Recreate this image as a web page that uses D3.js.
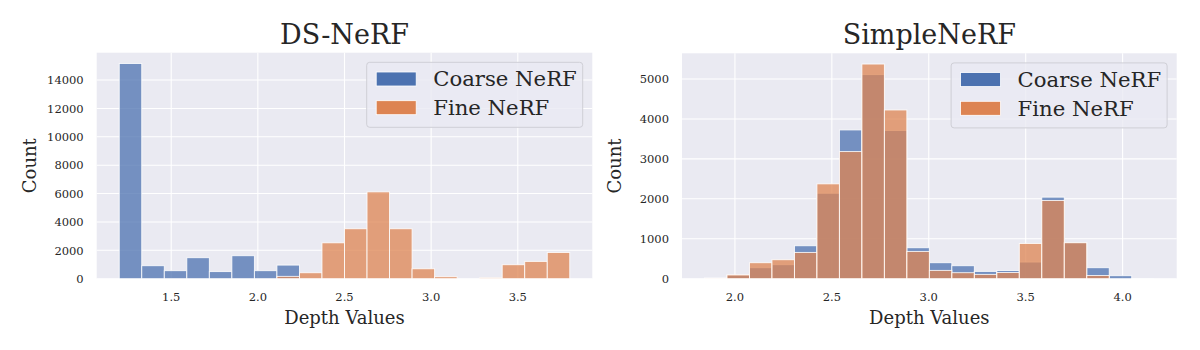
<!DOCTYPE html>
<html>
<head>
<meta charset="utf-8">
<script src="https://cdn.jsdelivr.net/npm/d3@7"></script>
<style>
  html, body { margin: 0; padding: 0; background: #fff; }
  svg { display: block; }
  text { font-family: "DejaVu Serif", serif; fill: #262626; }
</style>
</head>
<body>
<svg id="chart" width="1200" height="350"></svg>
<script>
// ---------- DATA ----------
const seriesNames = ["Coarse NeRF", "Fine NeRF"];

// DS-NeRF: 20 shared histogram bins
const dsEdges = [1.20, 1.33, 1.46, 1.59, 1.72, 1.85, 1.98, 2.11, 2.24, 2.37, 2.50,
                 2.63, 2.76, 2.89, 3.02, 3.15, 3.28, 3.41, 3.54, 3.67, 3.80];
const dsCoarse = [15170, 915, 565, 1480, 500, 1620, 565, 960, 0, 0,
                  0, 0, 0, 0, 0, 0, 0, 0, 0, 0];
const dsFine   = [0, 0, 0, 0, 0, 0, 0, 165, 420, 2530,
                  3520, 6120, 3520, 700, 140, 0, 70, 985, 1220, 1850];
const dsXTicks = [1.5, 2.0, 2.5, 3.0, 3.5];
const dsYTicks = [0, 2000, 4000, 6000, 8000, 10000, 12000, 14000];

// SimpleNeRF: 20 shared histogram bins
const snEdges = [1.843, 1.959, 2.075, 2.191, 2.307, 2.423, 2.539, 2.655, 2.771, 2.887, 3.003,
                 3.119, 3.235, 3.351, 3.467, 3.583, 3.699, 3.815, 3.931, 4.047, 4.163];
const snCoarse = [15, 90, 275, 350, 825, 2140, 3725, 5110, 3710, 775,
                  400, 325, 183, 205, 417, 2042, 905, 275, 75, 5];
const snFine   = [10, 95, 400, 475, 658, 2375, 3183, 5375, 4225, 683,
                  208, 150, 108, 155, 883, 1958, 900, 80, 0, 0];
const snXTicks = [2.0, 2.5, 3.0, 3.5, 4.0];
const snYTicks = [0, 1000, 2000, 3000, 4000, 5000];

const titles = ["DS-NeRF", "SimpleNeRF"];
const xLabel = "Depth Values";
const yLabel = "Count";

// ---------- STYLE ----------
const colors = ["#4c72b0", "#dd8452"];
const bg = "#eaeaf2";

const svg = d3.select("#chart");

function drawPanel(cfg) {
  const {left, right, top, bottom, edges, series, xTicks, yTicks, title} = cfg;
  const lo = edges[0], hi = edges[edges.length - 1], span = hi - lo;
  const x = d3.scaleLinear().domain([lo - 0.05 * span, hi + 0.05 * span]).range([left, right]);
  const ymax = d3.max(series.flat());
  const y = d3.scaleLinear().domain([0, ymax * 1.05]).range([bottom, top]);

  const g = svg.append("g");
  g.append("rect").attr("x", left).attr("y", top)
    .attr("width", right - left).attr("height", bottom - top).attr("fill", bg);

  // grid
  g.append("g").selectAll("line").data(yTicks).join("line")
    .attr("x1", left).attr("x2", right)
    .attr("y1", d => y(d)).attr("y2", d => y(d))
    .attr("stroke", "#fff").attr("stroke-width", 1.1);
  g.append("g").selectAll("line").data(xTicks).join("line")
    .attr("y1", top).attr("y2", bottom)
    .attr("x1", d => x(d)).attr("x2", d => x(d))
    .attr("stroke", "#fff").attr("stroke-width", 1.1);

  // bars (coarse first, fine layered on top)
  series.forEach((vals, si) => {
    const bins = vals.map((v, i) => ({x0: edges[i], x1: edges[i + 1], v}));
    g.append("g").selectAll("rect").data(bins.filter(b => b.v > 0)).join("rect")
      .attr("x", d => x(d.x0))
      .attr("width", d => x(d.x1) - x(d.x0))
      .attr("y", d => y(d.v))
      .attr("height", d => y(0) - y(d.v))
      .attr("fill", colors[si]).attr("fill-opacity", 0.75)
      .attr("stroke", "#fff").attr("stroke-width", 0.9).attr("stroke-opacity", 0.9);
  });

  // axes tick labels
  const ax = g.append("g").style("font-size", "11.5px");
  ax.selectAll("text.yt").data(yTicks).join("text").attr("class", "yt")
    .attr("x", left - 13).attr("y", d => y(d) + 4.2)
    .attr("text-anchor", "end").text(d => d);
  ax.selectAll("text.xt").data(xTicks).join("text").attr("class", "xt")
    .attr("x", d => x(d)).attr("y", bottom + 22.3)
    .attr("text-anchor", "middle").text(d => d.toFixed(1));

  // labels
  const cx = (left + right) / 2, cy = (top + bottom) / 2;
  g.append("text").attr("x", cx).attr("y", 324.3).attr("text-anchor", "middle")
    .style("font-size", "18px").text(xLabel);
  g.append("text").attr("transform", `translate(${left - 61},${cy}) rotate(-90)`)
    .attr("text-anchor", "middle").style("font-size", "18px").text(yLabel);
  g.append("text").attr("x", cx).attr("y", 44.3).attr("text-anchor", "middle")
    .style("font-size", "27px").text(title);

  // legend
  const lw = 216, lh = 65;
  const lx = right - 9.6 - lw, ly = top + 9.6;
  const lg = g.append("g");
  lg.append("rect").attr("x", lx).attr("y", ly).attr("width", lw).attr("height", lh)
    .attr("rx", 3).attr("fill", bg).attr("fill-opacity", 0.8)
    .attr("stroke", "#cfcfd6").attr("stroke-width", 1);
  seriesNames.forEach((name, i) => {
    lg.append("rect").attr("x", lx + 9.5).attr("y", ly + 9.7 + i * 28.7)
      .attr("width", 40).attr("height", 14)
      .attr("fill", colors[i]).attr("stroke", "#fff").attr("stroke-width", 0.8);
    lg.append("text").attr("x", lx + 66.5).attr("y", ly + 23.9 + i * 28.7)
      .style("font-size", "21.2px").text(name);
  });
}

drawPanel({left: 96.7, right: 592.3, top: 52.7, bottom: 278.7,
  edges: dsEdges, series: [dsCoarse, dsFine], xTicks: dsXTicks, yTicks: dsYTicks, title: titles[0]});
drawPanel({left: 682, right: 1176.7, top: 53.3, bottom: 278.7,
  edges: snEdges, series: [snCoarse, snFine], xTicks: snXTicks, yTicks: snYTicks, title: titles[1]});
</script>
</body>
</html>
